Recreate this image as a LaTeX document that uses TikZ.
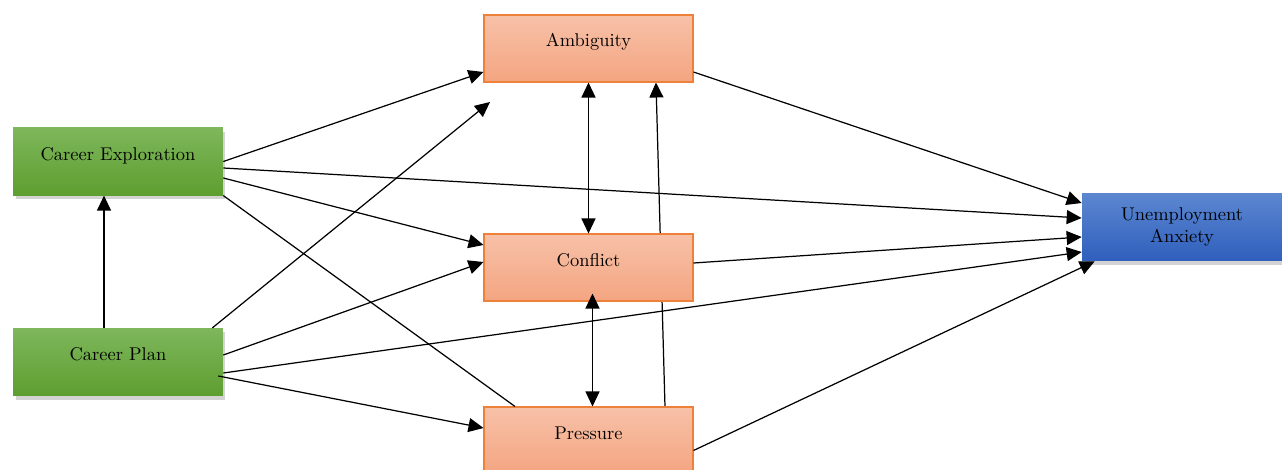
\documentclass[tikz,border=0pt]{standalone}
\usetikzlibrary{arrows.meta,shadows,backgrounds}
\definecolor{orangetop}{HTML}{F7C1A8}
\definecolor{orangebot}{HTML}{F4A581}
\definecolor{orangeline}{HTML}{EE8139}
\definecolor{greentop}{HTML}{7EB75C}
\definecolor{greenbot}{HTML}{5E9E2F}
\definecolor{bluetop}{HTML}{5C87D0}
\definecolor{bluebot}{HTML}{2F5FBD}
\begin{document}
\begin{tikzpicture}[x=0.02cm, y=-0.02cm,
  every node/.style={font=\fontsize{10.5}{12.5}\selectfont},
  role/.style={rectangle, draw=orangeline, line width=0.6pt, top color=orangetop, bottom color=orangebot,
    minimum width=4.18cm, minimum height=1.34cm, inner sep=0pt, text height=0.3cm, text depth=0.36cm},
  career/.style={rectangle, top color=greentop, bottom color=greenbot,
    minimum width=4.2cm, minimum height=1.35cm, inner sep=0pt, text height=0.3cm, text depth=0.36cm,
    drop shadow={shadow xshift=0.05cm, shadow yshift=-0.08cm, opacity=0.35}},
  outcome/.style={rectangle, top color=bluetop, bottom color=bluebot,
    minimum width=4.0cm, minimum height=1.36cm, inner sep=0pt, align=center,
    drop shadow={shadow xshift=0.05cm, shadow yshift=-0.08cm, opacity=0.35}},
  arr/.style={-{Triangle[length=0.3cm,width=0.28cm]}, line width=0.7pt},
  dbl/.style={{Triangle[length=0.3cm,width=0.28cm]}-{Triangle[length=0.3cm,width=0.28cm]}, line width=0.7pt}]
  \useasboundingbox (0,0) rectangle (1282,470);

  \node[role]    (amb) at (588.5,48.5)  {Ambiguity};
  \node[role]    (con) at (588.5,267.5) {Conflict};
  \node[role]    (pre) at (588.5,440.5) {Pressure};
  \node[career]  (ce)  at (118,161.5)   {Career Exploration};
  \node[career]  (cp)  at (118,362)     {Career Plan};
  \node[outcome] (ua)  at (1182,227)    {Unemployment\\Anxiety};
  \coordinate (ambgap) at (490,102);

  \draw[arr] ([xshift=-0.28cm]cp.north) -- ([xshift=-0.28cm]ce.south);

  \draw[arr] (ce.east) -- ([yshift=-0.47cm]amb.west);
  \draw[arr] ([yshift=-0.13cm]ce.east) -- ([yshift=0.18cm]ua.west);
  \draw[arr] ([yshift=-0.33cm]ce.east) -- ([yshift=0.45cm]con.west);
  \draw[line width=0.7pt] (ce.south east) -- ([xshift=-1.47cm]pre.north);

  \draw[arr] ([xshift=-0.22cm]cp.north east) -- (ambgap);
  \draw[arr] ([yshift=0.14cm]cp.east) -- ([yshift=0.11cm]con.west);
  \draw[arr] ([yshift=-0.22cm]cp.east) -- ([yshift=-0.5cm]ua.west);
  \draw[arr] ([xshift=-0.1cm,yshift=-0.28cm]cp.east) -- ([yshift=0.25cm]pre.west);

  \draw[dbl] (amb.south) -- (con.north);
  \draw[dbl] ([xshift=0.08cm,yshift=0.16cm]con.south) -- ([xshift=0.08cm]pre.north);
  \begin{scope}[on background layer]
    \draw[arr] ([xshift=1.53cm]pre.north) -- ([xshift=1.35cm]amb.south);
  \end{scope}

  \draw[arr] ([yshift=-0.47cm]amb.east) -- ([yshift=0.48cm]ua.west);
  \draw[arr] ([yshift=0.09cm]con.east) -- ([yshift=-0.2cm]ua.west);
  \draw[arr] ([yshift=-0.2cm]pre.east) -- ([xshift=0.26cm]ua.south west);
\end{tikzpicture}
\end{document}
